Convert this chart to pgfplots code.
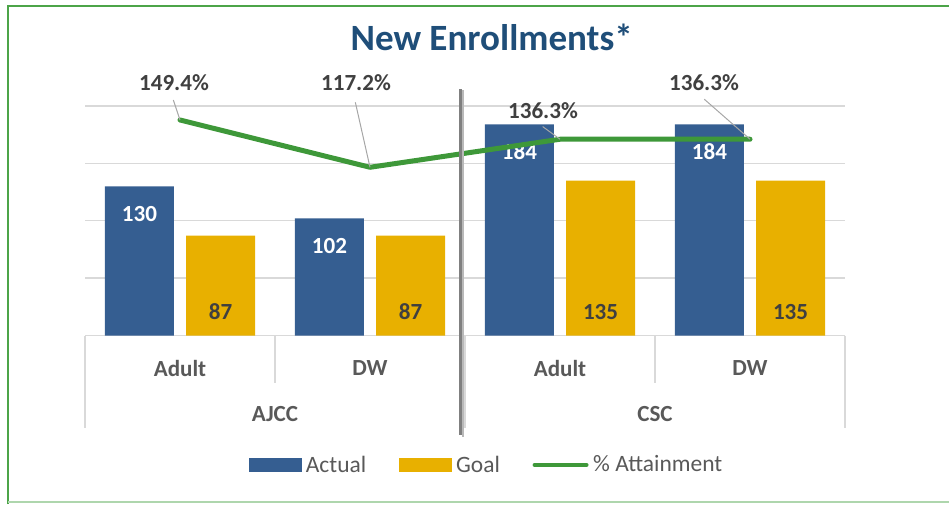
\documentclass[border=0pt]{standalone}
\usepackage{pgfplots}
\pgfplotsset{compat=1.18}
\usepackage{fontspec}
\setmainfont{Carlito}
\definecolor{actual}{RGB}{53,94,145}
\definecolor{goal}{RGB}{232,176,0}
\definecolor{attain}{RGB}{62,152,57}
\definecolor{titleblue}{RGB}{31,78,121}
\definecolor{lblgray}{RGB}{64,64,64}
\definecolor{axgray}{RGB}{89,89,89}
\definecolor{gridc}{RGB}{217,217,217}
\definecolor{bordc}{RGB}{76,164,72}
\definecolor{leadc}{RGB}{166,166,166}
\definecolor{divc}{RGB}{128,128,128}
\newcommand{\lblfont}{\fontsize{17.3}{20}\selectfont\bfseries}
\begin{document}
\begin{tikzpicture}
\begin{scope}[x=0.75pt,y=0.75pt]
\path[use as bounding box] (0,0) rectangle (949,504);
\draw[bordc, line width=1.6pt] (8,0) -- (8,498) -- (949,498);
\draw[bordc!45, line width=1pt] (8,2) -- (949,2);
\node[anchor=base, font=\fontsize{27.8}{32}\selectfont\bfseries, text=titleblue] at (491.7,453) {New Enrollments*};
\end{scope}

\begin{axis}[
  at={(63.75pt,126.375pt)}, anchor=south west,
  x=142.5pt, y=0.8606pt,
  xmin=-0.5, xmax=3.5, ymin=0, ymax=200,
  axis line style={draw=none},
  tick style={draw=none},
  ytick={0,50,...,200}, yticklabels={},
  ymajorgrids, grid style={gridc, line width=1.1pt},
  xtick={0,1,2,3}, xticklabels={Adult,DW,Adult,DW},
  xticklabel style={font=\lblfont, text=axgray, anchor=center, yshift=-24.4pt},
  clip=false,
  /pgf/number format/assume math mode=true,
  visualization depends on={y \as \rawy},
]
\addplot[ybar, bar width=51.75pt, bar shift=-30.4pt, fill=actual, draw=none,
  nodes near coords,
  every node near coord/.append style={anchor=center, xshift=-30.4pt, yshift=-20.7pt, text=white, font=\lblfont}]
  coordinates {(0,130) (1,102) (2,184) (3,184)};
\addplot[ybar, bar width=51.75pt, bar shift=30.4pt, fill=goal, draw=none,
  nodes near coords,
  every node near coord/.append style={anchor=center, xshift=30.4pt, yshift={-\rawy*0.8606pt+17.9pt}, text=lblgray, font=\lblfont}]
  coordinates {(0,87) (1,87) (2,135) (3,135)};
\draw[gridc, line width=1.1pt] (axis cs:-0.5,0) -- (axis cs:-0.5,-80.6);
\draw[gridc, line width=1.1pt] (axis cs:0.5,0) -- (axis cs:0.5,-41.4);
\draw[gridc, line width=1.1pt] (axis cs:1.5,0) -- (axis cs:1.5,-80.6);
\draw[gridc, line width=1.1pt] (axis cs:2.5,0) -- (axis cs:2.5,-41.4);
\draw[gridc, line width=1.1pt] (axis cs:3.5,0) -- (axis cs:3.5,-80.6);
\node[font=\lblfont, text=axgray] at (axis cs:0.5,-68.8) {AJCC};
\node[font=\lblfont, text=axgray] at (axis cs:2.5,-68.8) {CSC};
\coordinate (dt) at (axis cs:1.477,214.8);
\coordinate (db) at (axis cs:1.477,-86.7);
\end{axis}

\begin{axis}[
  at={(63.75pt,126.375pt)}, anchor=south west,
  x=142.5pt, y=1.1018pt,
  xmin=-0.5, xmax=3.5, ymin=2.7, ymax=158.9,
  hide axis, clip=false,
  legend columns=3,
  legend style={at={(0.53,-0.564)}, anchor=center, draw=none, fill=none,
    font=\fontsize{17.6}{20}\selectfont, text=axgray, inner sep=0pt,
    /tikz/every even column/.append style={column sep=21pt},
    nodes={inner xsep=3.5pt, inner ysep=0pt}},
]
\addlegendimage{legend image code/.code={\fill[actual] (0pt,-4.9pt) rectangle (39pt,4.9pt);}}
\addlegendentry{Actual}
\addlegendimage{legend image code/.code={\fill[goal] (0pt,-4.9pt) rectangle (39pt,4.9pt);}}
\addlegendentry{Goal}
\addlegendimage{legend image code/.code={\draw[attain, line width=3pt, line cap=round] (1.5pt,0pt) -- (40.5pt,0pt);}}
\addlegendentry{\% Attainment}
\addplot[attain, line width=3.75pt, line cap=round, line join=round, forget plot]
  coordinates {(0,149.4) (1,117.2) (2,136.3) (3,136.3)};
\draw[leadc, line width=0.75pt] (axis cs:0,149.4) -- ++(-5pt,15pt);
\draw[leadc, line width=0.75pt] (axis cs:1,117.2) -- ++(-11pt,48.75pt);
\draw[leadc, line width=0.75pt] (axis cs:2,136.3) -- ++(-13pt,9.5pt);
\draw[leadc, line width=0.75pt] (axis cs:3,136.3) -- ++(-34.3pt,30pt);
\node[font=\lblfont, text=lblgray] at ([shift={(-4.5pt,27.75pt)}]axis cs:0,149.4) {149.4\%};
\node[font=\lblfont, text=lblgray] at ([shift={(-10.5pt,63.2pt)}]axis cs:1,117.2) {117.2\%};
\node[font=\lblfont, text=lblgray] at ([shift={(-12.75pt,21.75pt)}]axis cs:2,136.3) {136.3\%};
\node[font=\lblfont, text=lblgray] at ([shift={(-34.5pt,42.2pt)}]axis cs:3,136.3) {136.3\%};
\end{axis}

\draw[divc!55, line width=1.3pt] ([xshift=1.9pt,yshift=-1pt]dt) -- ([xshift=1.9pt,yshift=-1.5pt]db);
\draw[divc, line width=2pt] (dt) -- (db);
\end{tikzpicture}
\end{document}
